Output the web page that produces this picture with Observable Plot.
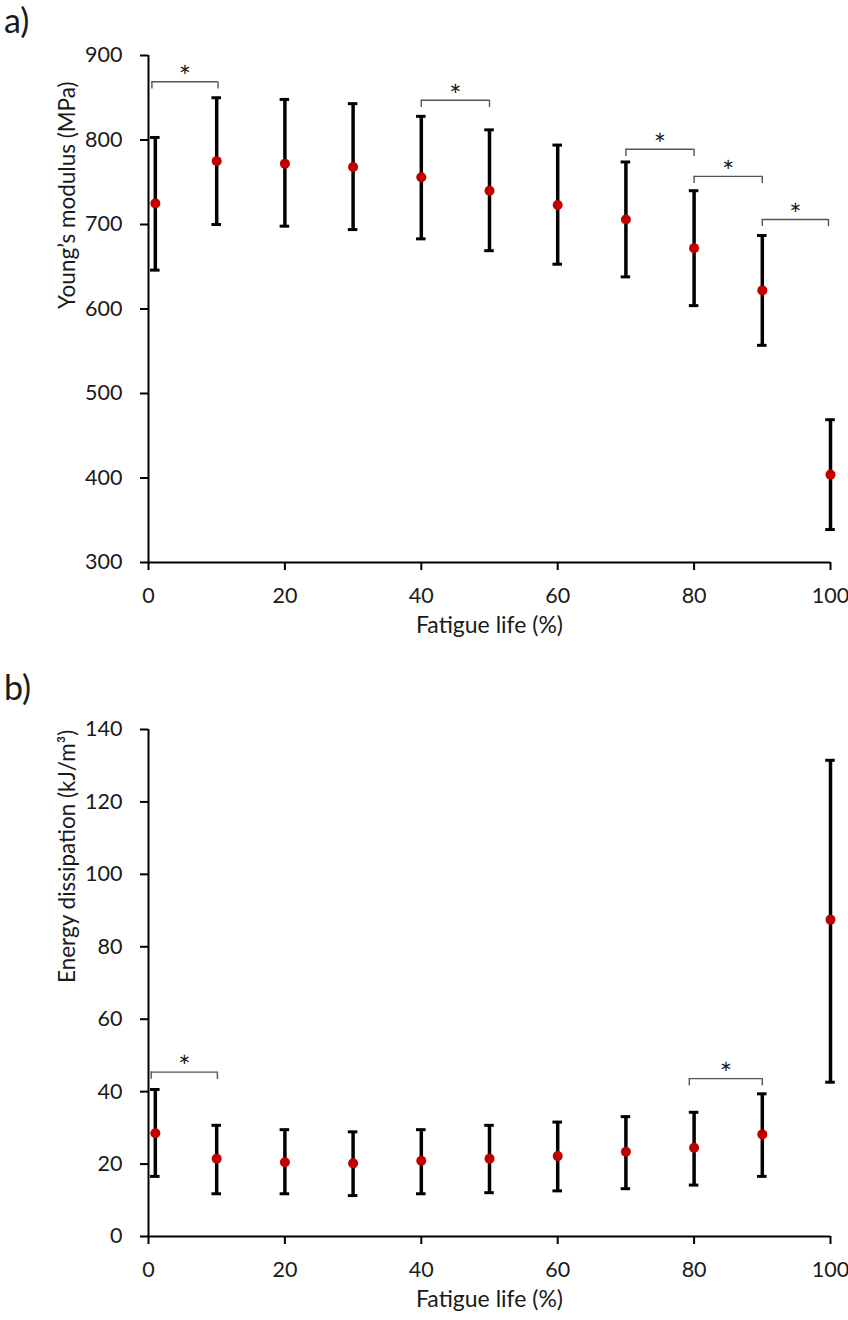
<!DOCTYPE html>
<html>
<head>
<meta charset="utf-8">
<script src="https://cdn.jsdelivr.net/npm/d3@7"></script>
<script src="https://cdn.jsdelivr.net/npm/@observablehq/plot@0.6"></script>
<style>
  body { margin: 0; background: #fff; }
  #wrap { position: relative; width: 848px; height: 1320px; background: #fff; font-family: Lato, "Open Sans", sans-serif; }
  .panel-label { position: absolute; left: 4px; font-size: 34px; line-height: 1; color: #1a1a1a; z-index: 2; }
  .plot { position: absolute; left: 0; z-index: 1; }
</style>
</head>
<body>
<div id="wrap">
  <div id="pa" class="plot" style="top:0px"></div>
  <div id="pb" class="plot" style="top:674px"></div>
  <div class="panel-label" style="top:3px">a)</div>
  <div class="panel-label" style="top:670px">b)</div>
</div>
<script>
// ---- data ----
const fatigueLife = [1, 10, 20, 30, 40, 50, 60, 70, 80, 90, 100];

const modulusMean = [725, 775, 772, 768, 756, 740, 723, 706, 672, 622, 404];
const modulusLow  = [646, 700, 698, 694, 683, 669, 653, 638, 604, 557, 339];
const modulusHigh = [803, 850, 848, 843, 828, 812, 794, 774, 740, 687, 469];

const energyMean = [28.5, 21.5, 20.5, 20.2, 20.9, 21.5, 22.2, 23.4, 24.5, 28.2, 87.5];
const energyLow  = [16.6, 11.8, 11.8, 11.3, 11.8, 12.1, 12.6, 13.2, 14.2, 16.6, 42.6];
const energyHigh = [40.6, 30.7, 29.5, 28.9, 29.5, 30.7, 31.6, 33.1, 34.3, 39.4, 131.5];

const xTicks = [0, 20, 40, 60, 80, 100];
const modulusTicks = [300, 400, 500, 600, 700, 800, 900];
const energyTicks = [0, 20, 40, 60, 80, 100, 120, 140];

// significance brackets
const modulusBracketFrom  = [0.5, 40, 70, 80, 90];
const modulusBracketTo    = [10.2, 50, 80, 90, 99.7];
const modulusBracketLevel = [869, 847, 789, 757, 706];

const energyBracketFrom  = [0.4, 79.3];
const energyBracketTo    = [10.1, 90];
const energyBracketLevel = [45.4, 43.6];

// ---- build ----
function rows(mean, low, high) {
  return fatigueLife.map((x, i) => ({x, mean: mean[i], low: low[i], high: high[i]}));
}
function brackets(from, to, level) {
  return from.map((f, i) => ({from: f, to: to[i], level: level[i]}));
}

function panel({data, br, yDomain, yTicks, yLabel, legDrop}) {
  const black = "#000";
  return Plot.plot({
    width: 848,
    height: 650,
    marginLeft: 148,
    marginRight: 18,
    marginTop: 55,
    marginBottom: 88,
    style: {fontFamily: "Lato, 'Open Sans', sans-serif", fontSize: "21.5px", color: "#1a1a1a", background: "transparent", overflow: "visible"},
    x: {domain: [0, 100]},
    y: {domain: yDomain},
    marks: [
      Plot.axisX({ticks: xTicks, tickSize: 8, tickPadding: 17, strokeWidth: 2, stroke: black, label: null}),
      Plot.axisY({ticks: yTicks, tickSize: 8, tickPadding: 18, strokeWidth: 2, stroke: black, label: null}),
      Plot.ruleX([0], {stroke: black, strokeWidth: 2}),
      Plot.ruleY([yDomain[0]], {stroke: black, strokeWidth: 2}),
      Plot.text(["Fatigue life (%)"], {text: d => d, frameAnchor: "bottom", dy: 70, fontSize: 23, fill: "#1a1a1a"}),
      Plot.text([yLabel], {text: d => d, frameAnchor: "left", rotate: -90, dx: -81, fontSize: 22.5, fill: "#1a1a1a"}),
      // brackets
      Plot.ruleY(br, {y: "level", x1: "from", x2: "to", stroke: "#555", strokeWidth: 1.4}),
      Plot.ruleX(br, {x: "from", y1: "level", y2: d => d.level - legDrop, stroke: "#555", strokeWidth: 1.4}),
      Plot.ruleX(br, {x: "to", y1: "level", y2: d => d.level - legDrop, stroke: "#555", strokeWidth: 1.4}),
      Plot.text(br, {x: d => (d.from + d.to) / 2, y: "level", text: () => "*", dy: -4, fontSize: 29, fill: "#1a1a1a"}),
      // error bars
      Plot.ruleX(data, {x: "x", y1: "low", y2: "high", stroke: black, strokeWidth: 3.5}),
      Plot.ruleY(data, {y: "high", x1: d => d.x - 0.7, x2: d => d.x + 0.7, stroke: black, strokeWidth: 3}),
      Plot.ruleY(data, {y: "low", x1: d => d.x - 0.7, x2: d => d.x + 0.7, stroke: black, strokeWidth: 3}),
      Plot.dot(data, {x: "x", y: "mean", r: 5, fill: "#c00000", stroke: "none"})
    ]
  });
}

document.getElementById("pa").append(panel({
  data: rows(modulusMean, modulusLow, modulusHigh),
  br: brackets(modulusBracketFrom, modulusBracketTo, modulusBracketLevel),
  yDomain: [300, 900], yTicks: modulusTicks,
  yLabel: "Young\u2019s modulus (MPa)", legDrop: 8.5
}));
document.getElementById("pb").append(panel({
  data: rows(energyMean, energyLow, energyHigh),
  br: brackets(energyBracketFrom, energyBracketTo, energyBracketLevel),
  yDomain: [0, 140], yTicks: energyTicks,
  yLabel: "Energy dissipation (kJ/m\u00b3)", legDrop: 2
}));
</script>
</body>
</html>
